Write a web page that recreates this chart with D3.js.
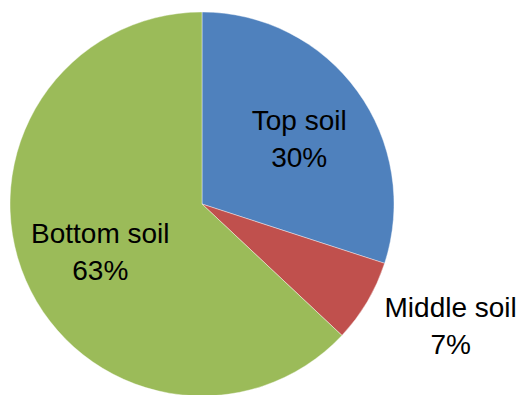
<!DOCTYPE html>
<html>
<head>
<meta charset="utf-8">
<script src="https://cdn.jsdelivr.net/npm/d3@7"></script>
<style>
  html, body { margin: 0; padding: 0; background: #fff; }
  svg { display: block; }
</style>
</head>
<body>
<div id="chart"></div>
<script>
const categories = ["Top soil", "Middle soil", "Bottom soil"];
const values = [30, 7, 63];
const percentLabels = ["30%", "7%", "63%"];
const colors = ["#4F81BD", "#C0504D", "#9BBB59"];

const width = 523, height = 395;
const cx = 202, cy = 204, radius = 192;

const svg = d3.select("#chart").append("svg")
    .attr("width", width)
    .attr("height", height);

const g = svg.append("g")
    .attr("transform", `translate(${cx}, ${cy})`);

const data = categories.map((c, i) => ({ name: c, value: values[i], pct: percentLabels[i], color: colors[i] }));

const pie = d3.pie()
    .value(d => d.value)
    .sort(null);

const arc = d3.arc()
    .innerRadius(0)
    .outerRadius(radius);

const arcs = pie(data);

g.selectAll("path")
    .data(arcs)
    .enter().append("path")
    .attr("d", arc)
    .attr("fill", d => d.data.color)
    .attr("stroke", "#fff")
    .attr("stroke-opacity", 0.5)
    .attr("stroke-width", 0.8);

// labels: inside for big slices, outside for small ones
const insideArc = d3.arc().innerRadius(radius * 0.6).outerRadius(radius * 0.6);
const outsideArc = d3.arc().innerRadius(radius * 1.42).outerRadius(radius * 1.42);

const labels = g.selectAll("g.label")
    .data(arcs)
    .enter().append("g")
    .attr("class", "label")
    .attr("transform", d => {
        const small = (d.endAngle - d.startAngle) < 0.5;
        const [x, y] = small ? outsideArc.centroid(d) : insideArc.centroid(d);
        return `translate(${x + (small ? 14 : 4)}, ${y + (small ? -17 : 2)})`;
    });

labels.append("text")
    .attr("text-anchor", "middle")
    .attr("y", -8.5)
    .attr("font-family", "'Liberation Sans', Arial, sans-serif")
    .attr("font-size", "28px")
    .attr("fill", "#000")
    .text(d => d.data.name);

labels.append("text")
    .attr("text-anchor", "middle")
    .attr("y", 28.5)
    .attr("font-family", "'Liberation Sans', Arial, sans-serif")
    .attr("font-size", "28px")
    .attr("fill", "#000")
    .text(d => d.data.pct);
</script>
</body>
</html>
